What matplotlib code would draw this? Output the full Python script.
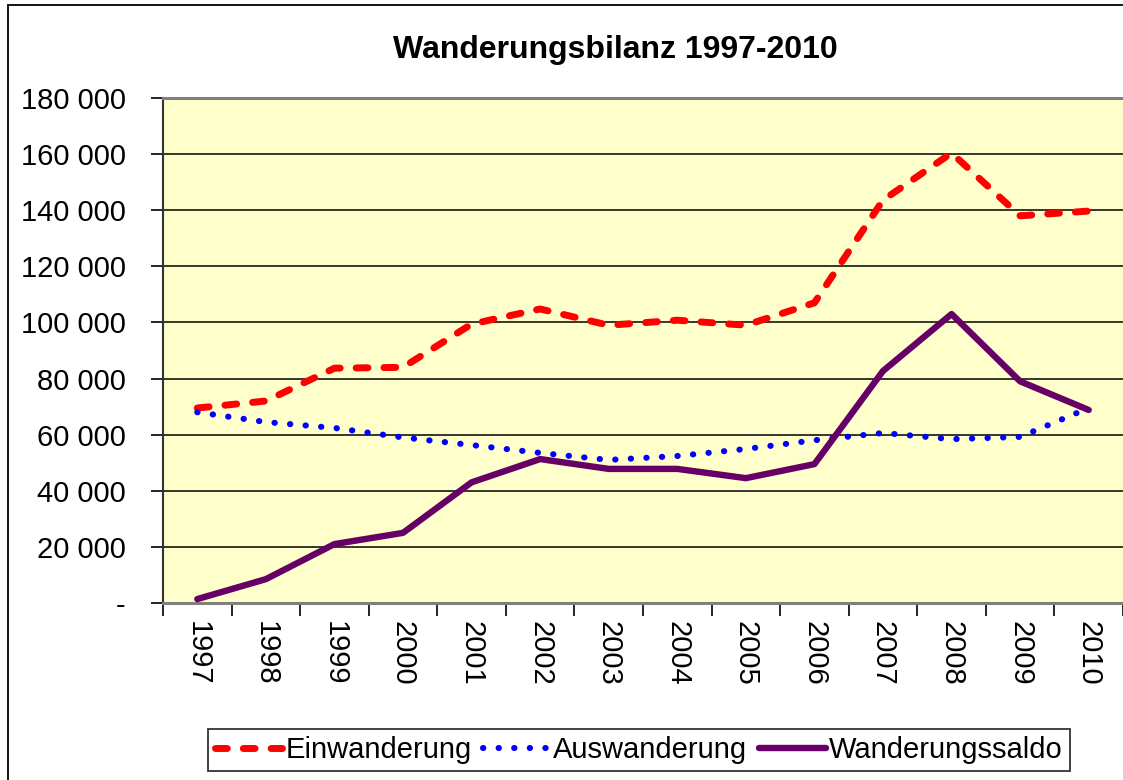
import numpy as np
import matplotlib
matplotlib.use("Agg")
import matplotlib.pyplot as plt
from matplotlib.ticker import FuncFormatter, FixedLocator
from matplotlib.patches import Rectangle

plt.rcParams['font.family'] = ['Liberation Sans', 'DejaVu Sans']

years = ["1997", "1998", "1999", "2000", "2001", "2002", "2003",
         "2004", "2005", "2006", "2007", "2008", "2009", "2010"]
einwanderung = [69500, 72000, 83700, 84000, 99400, 104800, 99000,
                100800, 99000, 107000, 143600, 160400, 138000, 139700]
auswanderung = [68000, 64500, 62400, 59000, 56300, 53500, 51000,
                52400, 54900, 58000, 60600, 58400, 59200, 69500]
saldo = [1400, 8500, 21000, 25000, 43000, 51300, 47800,
         47800, 44500, 49500, 82700, 103000, 79000, 68800]

fig = plt.figure(figsize=(11.23, 7.80), dpi=100)
ax = fig.add_axes([163/1123, 1 - 603/780, (1123 - 163)/1123, (603 - 98)/780])
ax.set_facecolor('#FFFFCC')

x = np.arange(len(years))
ax.plot(x, einwanderung, color='#FF0000', lw=5.0, linestyle=(0, (1.7, 2.3)),
        dash_capstyle='round', solid_capstyle='round', label='Einwanderung', zorder=3)
ax.plot(x, auswanderung, color='#0000FF', lw=4.4, linestyle=(0, (0.05, 2.5)),
        dash_capstyle='round', label='Auswanderung', zorder=3)
ax.plot(x, saldo, color='#660066', lw=4.6, solid_capstyle='round',
        solid_joinstyle='round', label='Wanderungssaldo', zorder=3)

ax.set_xlim(-0.5, len(years) - 0.5)
ax.set_ylim(0, 180000)
ax.set_yticks(np.arange(0, 180001, 20000))
ax.yaxis.set_major_formatter(FuncFormatter(
    lambda v, p: '-' if v == 0 else f"{int(v):,}".replace(',', ' ')))
ax.grid(axis='y', color='black', lw=1.1, zorder=1)

ax.set_xticks(x)
ax.set_xticklabels(years, rotation=270, fontsize=21)
ax.xaxis.set_minor_locator(FixedLocator(np.arange(-0.5, len(years), 1.0)))
ax.tick_params(axis='x', which='major', length=0, pad=13)
ax.tick_params(axis='x', which='minor', length=9, width=1.2, color='black', direction='out')
ax.tick_params(axis='y', length=9, width=1.2, color='black', direction='out',
               labelsize=21, pad=18)

for s in ['top', 'bottom']:
    ax.spines[s].set_color('#808080')
    ax.spines[s].set_linewidth(2.2)
ax.spines['right'].set_visible(False)
ax.spines['left'].set_color('#333333')
ax.spines['left'].set_linewidth(1.5)

fig.text(0.548, 1 - 50/780, 'Wanderungsbilanz 1997-2010', ha='center', va='center',
         fontsize=23, fontweight='bold')

leg = fig.legend(loc='center', bbox_to_anchor=(639/1123, 1 - 750/780), ncol=3,
                 fontsize=21, frameon=True, fancybox=False, edgecolor='black',
                 handlelength=2.3, handletextpad=0.1, columnspacing=0.4,
                 borderpad=0.25, borderaxespad=0)
leg.get_frame().set_linewidth(1.3)

fig.patches.append(Rectangle((8/1123, -0.05), 1.2, 1 - 5/780 + 0.05,
                             transform=fig.transFigure, fill=False,
                             edgecolor='black', lw=1.3))

fig.savefig('out.png', dpi=100)
